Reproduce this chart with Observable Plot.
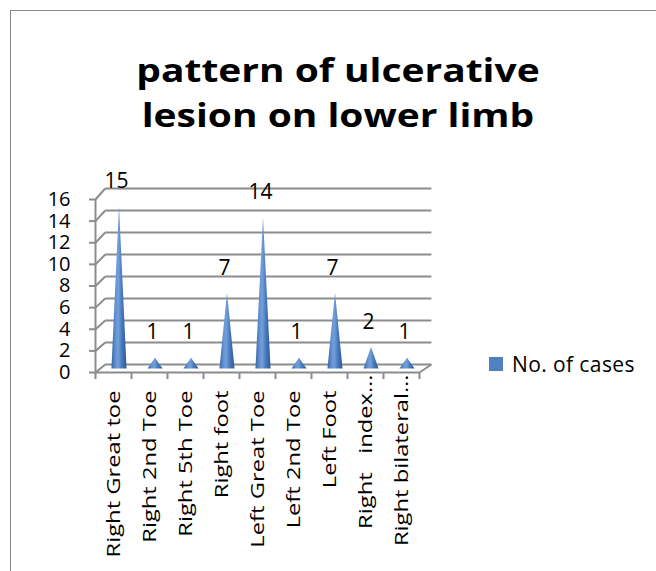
<!DOCTYPE html>
<html>
<head>
<meta charset="utf-8">
<script src="https://cdn.jsdelivr.net/npm/d3@7"></script>
<script src="https://cdn.jsdelivr.net/npm/@observablehq/plot@0.6"></script>
<style>
  body { margin: 0; background: #fff; }
  #wrap { position: relative; width: 656px; height: 571px; overflow: hidden; font-family: "Open Sans", sans-serif; }
  #frame { position: absolute; left: 10px; top: 10px; width: 700px; height: 620px; border: 1px solid #8a8a8a; }
  #chart { position: absolute; left: 0; top: 0; }
  #title { position: absolute; left: 9px; width: 658px; top: 47px; text-align: center; font-weight: bold; font-size: 33px; line-height: 45px; color: #000; transform: scaleX(1.18); transform-origin: 329px 0; }
  #legend { position: absolute; left: 489px; top: 352px; font-size: 21px; line-height: 24px; color: #000; display: flex; align-items: center; letter-spacing: 0.4px; }
  #legend .sw { width: 14px; height: 14px; background: #4f81bd; margin-right: 9px; }
  svg text { white-space: pre; }
</style>
</head>
<body>
<div id="wrap">
  <div id="frame"></div>
  <div id="chart"></div>
  <div id="title"></div>
  <div id="legend"></div>
</div>
<script>
// ---- data ----
const titleLines = ["pattern of ulcerative", "lesion on lower limb"];
const categories = ["Right Great toe", "Right 2nd Toe", "Right 5th Toe", "Right foot", "Left Great Toe", "Left 2nd Toe", "Left Foot", "Right   index", "Right bilateral"];
const truncated = [false, false, false, false, false, false, false, true, true];
const cases = [15, 1, 1, 7, 14, 1, 7, 2, 1];
const yTicks = [0, 2, 4, 6, 8, 10, 12, 14, 16];
const seriesName = "No. of cases";

// ---- 3D look (style constants) ----
const gridColor = "#8c8c8c";
const coneHalf = 0.21;          // half base width of a cone, in band units
const depthX = 0.27;            // back-wall shift to the right, band units
const depthXRight = 0.33;
const backY = v => 0.74 + 1.0173 * v; // back-wall value expressed on the front plane
const labelStretch = 1.25;      // category labels are drawn wide along their direction

const n = categories.length;
const rows = categories.map((c, i) => ({i, c, v: cases[i], t: truncated[i]}));
const coneData = rows.flatMap(r => [
  {k: r.i, x: r.i, y: r.v},
  {k: r.i, x: r.i + coneHalf, y: 0},
  {k: r.i, x: r.i - coneHalf, y: 0}
]);
const boundaries = d3.range(n + 1).map(j => j - 0.5);
const yMax = d3.max(yTicks);

const plot = Plot.plot({
  width: 656,
  height: 571,
  marginLeft: 95,
  marginRight: 237,
  marginTop: 199,
  marginBottom: 199,
  x: {type: "linear", domain: [-0.5, n - 0.5], axis: null},
  y: {domain: [0, yMax], axis: null},
  style: {fontFamily: "'Open Sans', sans-serif", fontSize: "19px", background: "transparent", overflow: "visible", color: "#000"},
  marks: [
    // back wall gridlines
    Plot.link(yTicks, {x1: () => -0.5 + depthX, x2: () => n - 0.5 + depthXRight, y1: d => backY(d), y2: d => backY(d), stroke: gridColor, strokeWidth: 2}),
    // side wall diagonals
    Plot.link(yTicks, {x1: () => -0.5, y1: d => d, x2: () => -0.5 + depthX, y2: d => backY(d), stroke: gridColor, strokeWidth: 2}),
    // floor right edge
    Plot.link([0], {x1: () => n - 0.5, y1: d => d, x2: () => n - 0.5 + depthXRight, y2: d => backY(d), stroke: gridColor, strokeWidth: 2}),
    // front axis lines
    Plot.ruleX([-0.5], {y1: 0, y2: yMax, stroke: gridColor, strokeWidth: 2}),
    Plot.ruleY([0], {x1: -0.5, x2: n - 0.5, stroke: gridColor, strokeWidth: 2}),
    // y axis
    Plot.axisY({ticks: yTicks, tickSize: 6, tickPadding: 19, stroke: gridColor, strokeWidth: 2, fill: "#000", fontSize: 20, label: null}),
    // x ticks at category boundaries
    Plot.axisX({ticks: boundaries, tickSize: 7, stroke: gridColor, strokeWidth: 2, fill: "none", label: null}),
    // cones
    Plot.line(coneData, {x: "x", y: "y", z: "k", fill: "url(#coneGrad)", stroke: "none", curve: "linear", dx: 5.5, dy: -4}),
    // data labels
    Plot.text(rows, {x: "i", y: "v", text: d => String(d.v), dx: 3, dy: -29, fontSize: 21, fill: "#000"}),
    // category labels
    Plot.text(rows.filter(r => !r.t), {x: "i", y: () => 0, text: "c", rotate: -90, textAnchor: "end", dy: 18, fontSize: 19, fill: "#000", className: "catlab"}),
    Plot.text(rows.filter(r => r.t), {x: "i", y: () => 0, text: d => d.c + "\u2026", rotate: -90, textAnchor: "end", dy: 2, fontSize: 19, fill: "#000", className: "catlab"})
  ]
});

// stretch the category labels along their reading direction
plot.querySelectorAll(".catlab text").forEach(t => {
  const tr = t.getAttribute("transform") || "";
  t.setAttribute("transform", tr + ` scale(${labelStretch},1)`);
});

// gradient for the cones
const ns = "http://www.w3.org/2000/svg";
const defs = document.createElementNS(ns, "defs");
const grad = document.createElementNS(ns, "linearGradient");
grad.setAttribute("id", "coneGrad");
grad.setAttribute("x1", "0"); grad.setAttribute("x2", "1");
grad.setAttribute("y1", "0"); grad.setAttribute("y2", "0");
[["0%", "#3a67a6"], ["30%", "#6695d3"], ["45%", "#729fdb"], ["70%", "#4677bb"], ["100%", "#2d5a96"]].forEach(([o, c]) => {
  const s = document.createElementNS(ns, "stop");
  s.setAttribute("offset", o); s.setAttribute("stop-color", c);
  grad.appendChild(s);
});
defs.appendChild(grad);
plot.insertBefore(defs, plot.firstChild);

document.getElementById("chart").appendChild(plot);
document.getElementById("title").innerHTML = titleLines.join("<br>");
document.getElementById("legend").innerHTML = `<div class="sw"></div><span>${seriesName}</span>`;
</script>
</body>
</html>
